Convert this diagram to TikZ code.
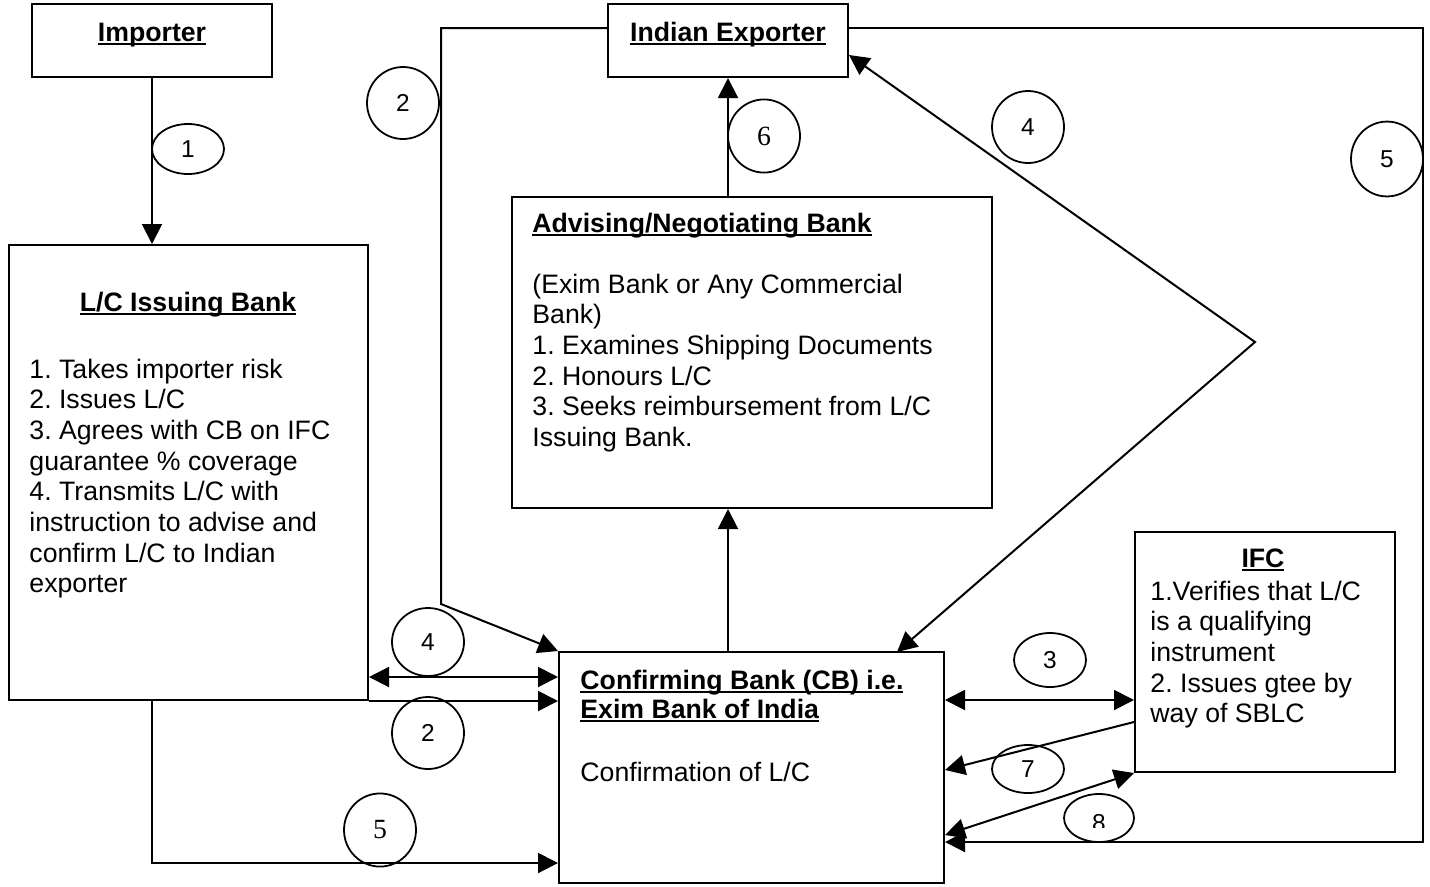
\documentclass[tikz,border=0pt]{standalone}
\usepackage{fontspec}
\setmainfont{Liberation Sans}
\newfontfamily\serifnum{Liberation Serif}
\usetikzlibrary{arrows.meta,shapes.geometric,fit,calc}
\frenchspacing
\newcommand\myul[1]{\setbox0\hbox{#1}\rlap{\rule[-2pt]{\wd0}{0.9pt}}\box0}
\newcommand\bodyfont{\fontsize{12}{13.8}\selectfont}
\newcommand\lines[1]{\parbox[t]{300pt}{\raggedright #1}}
\begin{document}
\begin{tikzpicture}[x=0.45pt,y=-0.45pt,
  >={Triangle[length=9pt,width=9pt]},
  box/.style={draw,line width=0.9pt,inner sep=0pt,rectangle},
  conn/.style={line width=0.9pt},
  numb/.style={draw,ellipse,line width=0.8pt,inner sep=0pt,font=\fontsize{11}{12}\selectfont},
  snumb/.style={numb,font=\serifnum\fontsize{12.5}{14}\selectfont},
  ttl/.style={inner sep=0pt,font=\bfseries\bodyfont,anchor=base},
  txt/.style={inner sep=0pt,anchor=base west,font=\bodyfont}]
\useasboundingbox[fill=white] (0,0) rectangle (1430,886);

% boxes
\node[box,fit={(32,4) (272,77)}] (imp) {};
\node[box,fit={(608,4) (848,77)}] (exp) {};
\node[box,fit={(9,245) (368,700)}] (lcb) {};
\node[box,fit={(512,197) (992,508)}] (adv) {};
\node[box,fit={(559,652) (944,883)}] (cb) {};
\node[box,fit={(1135,532) (1395,772)}] (ifc) {};

% texts
\node[ttl] (impT) at (152,41) {\myul{Importer}};
\node[ttl] (expT) at (728,41) {\myul{Indian Exporter}};
\node[ttl] (lcbT) at (188,311) {\myul{L/C Issuing Bank}};
\node[txt] (lcbB) at (29,378) {\lines{1. Takes importer risk\\
2. Issues L/C\\
3. Agrees with CB on IFC\\
guarantee \% coverage\\
4. Transmits L/C with\\
instruction to advise and\\
confirm L/C to Indian\\
exporter}};
\node[ttl,anchor=base west] (advT) at (532,232) {\myul{Advising/Negotiating Bank}};
\node[txt] (advB) at (532,293) {\lines{(Exim Bank or Any Commercial\\
Bank)\\
1. Examines Shipping Documents\\
2. Honours L/C\\
3. Seeks reimbursement from L/C\\
Issuing Bank.}};
\node[ttl] (ifcT) at (1263,567) {\myul{IFC}};
\node[txt] (ifcB) at (1150,600) {\lines{1.Verifies that L/C\\
is a qualifying\\
instrument\\
2. Issues gtee by\\
way of SBLC}};
\node[ttl,anchor=base west] (cbT1) at (580,689) {\myul{Confirming Bank (CB) i.e.}};
\node[ttl,anchor=base west] (cbT2) at (580,718) {\myul{Exim Bank of India}};
\node[txt] (cbB) at (580,781) {Confirmation of L/C};

% helper coordinates
\coordinate (b2a) at (441,28);
\coordinate (b2b) at (441,604);
\coordinate (b5a) at (1423,28);
\coordinate (b5b) at (1423,842);
\coordinate (v4) at (1255,342);
\coordinate (t4a) at (849,55);
\coordinate (t4b) at (897,652);
\coordinate (y677) at (0,677);
\coordinate (b5c) at (152,863);
\coordinate (y700) at (0,700);
\coordinate (y722) at (0,722);
\coordinate (y770) at (0,770);
\coordinate (y835) at (0,835);

% connectors
\draw[conn,->] (imp.south) -- (imp.south |- lcb.north);
\draw[conn,->] (exp.west |- b2a) -- (b2a) -- (b2b) -- (cb.north west);
\draw[conn,->] (exp.east |- b5a) -- (b5a) -- (b5b) -- (cb.east |- b5b);
\draw[conn,->] (adv.north -| exp.south) -- (exp.south);
\draw[conn,->] (cb.north -| exp.south) -- (adv.south -| exp.south);
\draw[conn,<->] (t4a) -- (v4) -- (t4b);
\draw[conn,<->] (lcb.east |- y677) -- (cb.west |- y677);
\draw[conn,->] (lcb.south east) -- (cb.west |- lcb.south east);
\draw[conn,->] (imp.south |- lcb.south) -- (b5c) -- (cb.west |- b5c);
\draw[conn,<->] (cb.east |- y700) -- (ifc.west |- y700);
\draw[conn,->] (ifc.west |- y722) -- (cb.east |- y770);
\draw[conn,<->] (cb.east |- y835) -- (ifc.south west);

% number ellipses
\node[numb,minimum width=32.4pt,minimum height=22.5pt] (e1) at (188,149) {1};
\node[numb,minimum width=32.4pt,minimum height=32.4pt] (e2a) at (403,103) {2};
\node[snumb,minimum width=32.4pt,minimum height=32.9pt] (e6) at (764,136) {6};
\node[numb,minimum width=32.4pt,minimum height=32.4pt] (e4a) at (1028,127) {4};
\node[numb,minimum width=32.4pt,minimum height=33.7pt] (e5a) at (1387,159) {5};
\node[numb,minimum width=32.4pt,minimum height=30.6pt] (e4b) at (428,642) {4};
\node[numb,minimum width=32.4pt,minimum height=32.4pt] (e2b) at (428,733) {2};
\node[snumb,minimum width=32.4pt,minimum height=32.9pt] (e5b) at (380,830) {5};
\node[numb,minimum width=32.4pt,minimum height=24.3pt] (e3) at (1050,660) {3};
\node[numb,minimum width=32.4pt,minimum height=21.6pt] (e7) at (1028,769) {7};
\node[numb,minimum width=31.5pt,minimum height=21.6pt] (e8) at (1099,818) {};
\begin{scope}
\clip (1060,800) rectangle (1140,827);
\node[inner sep=0pt,anchor=base,font=\fontsize{11}{12}\selectfont] (e8t) at (1099,831) {8};
\end{scope}
\end{tikzpicture}
\end{document}
